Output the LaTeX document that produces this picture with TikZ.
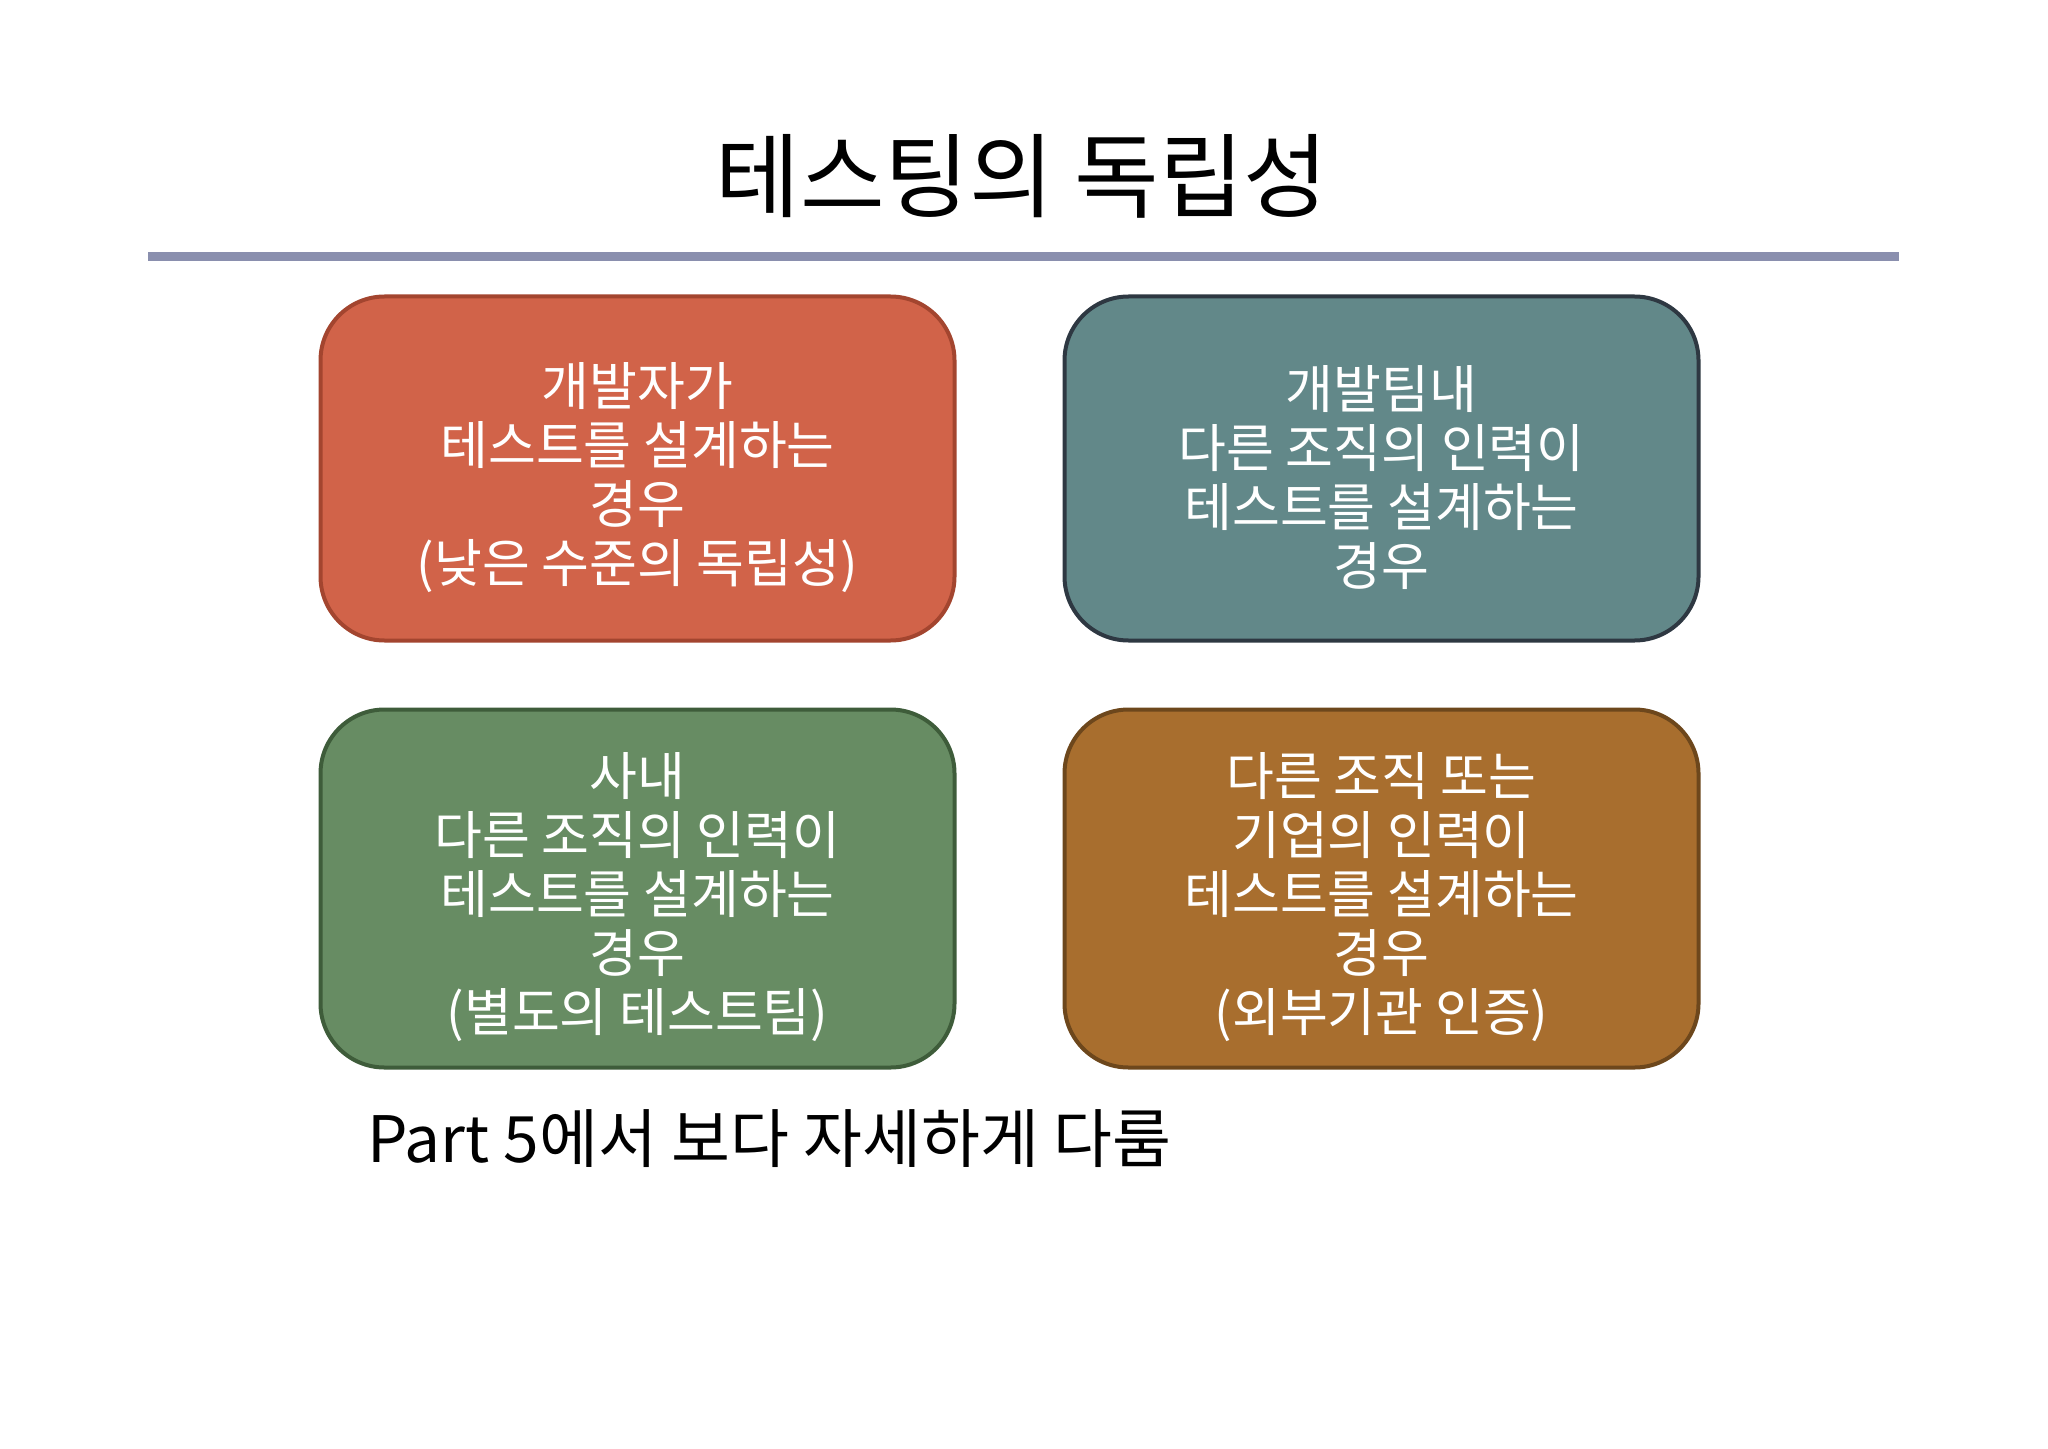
\documentclass[tikz,border=0pt]{standalone}
\usepackage{fontspec}
\setmainfont{Noto Sans CJK KR}
\usepackage{xcolor}

\definecolor{boxred}{HTML}{D16349}
\definecolor{boxredline}{HTML}{A3452F}
\definecolor{boxteal}{HTML}{628889}
\definecolor{boxtealline}{HTML}{2E3842}
\definecolor{boxgreen}{HTML}{678C63}
\definecolor{boxgreenline}{HTML}{3E5C3A}
\definecolor{boxbrown}{HTML}{A86E2E}
\definecolor{boxbrownline}{HTML}{6D471C}
\definecolor{ruleline}{HTML}{8A8FAE}

% extra room above the first line of a box
\newcommand\topgap{\rule{0pt}{30.5pt}}

\begin{document}
\begin{tikzpicture}[x=0.5pt, y=-0.5pt,
	casebox/.style = {
		rectangle, rounded corners=32pt, line width=2pt,
		minimum width=317pt, inner sep=0pt, align=center,
		text=white, font=\fontsize{26}{29.5}\selectfont},
	]
				% page size of the slide
				\useasboundingbox[fill=white] (0,0) rectangle (2048,1449);
				
				% title and the line below it
				\node[font=\fontsize{46}{52}\selectfont] (title) at (1022,176) {테스팅의 독립성};
				\coordinate (ruleL) at (148,257);
				\coordinate (ruleR) at (1899,257);
				\draw[ruleline, line width=4.5pt] (ruleL) -- (ruleR);
				
				% the four cases
				\node[casebox, fill=boxred, draw=boxredline, minimum height=172pt] (dev) at (637.5,468.5)
				{\topgap 개발자가\\테스트를 설계하는\\경우\\(낮은 수준의 독립성)};
				\node[casebox, fill=boxteal, draw=boxtealline, minimum height=172pt] (team) at (1381.5,468.5)
				{\topgap 개발팀내\\다른 조직의 인력이\\테스트를 설계하는\\경우};
				\node[casebox, fill=boxgreen, draw=boxgreenline, minimum height=179pt] (inhouse) at (637.5,888.5)
				{\topgap 사내\\다른 조직의 인력이\\테스트를 설계하는\\경우\\(별도의 테스트팀)};
				\node[casebox, fill=boxbrown, draw=boxbrownline, minimum height=179pt] (outside) at (1381.5,888.5)
				{\topgap 다른 조직 또는\\기업의 인력이\\테스트를 설계하는\\경우\\(외부기관 인증)};
				
				% note at the bottom
				\node[anchor=west, font=\fontsize{32}{36}\selectfont] (note) at (360,1139) {Part 5에서 보다 자세하게 다룸};
				
			\end{tikzpicture}
\end{document}
